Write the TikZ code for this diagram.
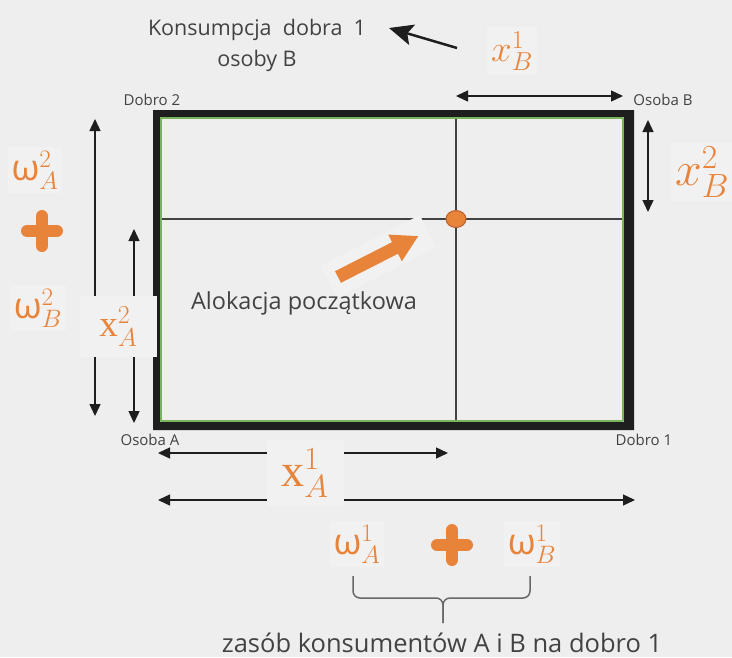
\documentclass[tikz,border=0pt]{standalone}
\usepackage{fix-cm}
\usepackage{fontspec}
\setmainfont{Open Sans}
\newfontfamily\szeryf{Liberation Serif}
\usetikzlibrary{arrows.meta,shapes.geometric}
\definecolor{tlo}{HTML}{EEEEEE}
\definecolor{jasne}{HTML}{F1F1F1}
\definecolor{pomar}{HTML}{E8833A}
\definecolor{ciemnypomar}{HTML}{B8612A}
\definecolor{ziel}{HTML}{79B45B}
\definecolor{czern}{HTML}{1E1E1E}
\definecolor{szary}{HTML}{424242}
\tikzset{
  wymiar/.style={<->,line width=1.4pt,draw=czern},
  maly/.style={font=\fontsize{15}{18}\selectfont,text=szary,inner sep=0pt},
  duzy/.style={font=\fontsize{21.5}{31}\selectfont,text=szary,align=center,inner sep=0pt},
  etyk/.style={font=\fontsize{36}{40}\selectfont,text=pomar,fill=jasne,inner sep=4pt},
  plus/.style={draw=pomar,line width=12pt,line cap=round},
  klamra/.style={draw=szary!80,line width=1.5pt,rounded corners=7pt},
}
\begin{document}
\begin{tikzpicture}[x=1pt,y=-1pt,>={Triangle[length=12pt,width=11pt]},line join=round]
  \useasboundingbox[fill=tlo] (0,0) rectangle (732,657);
  % skrzynka
  \fill[czern,even odd rule] (153,110) rectangle (634,430) (160,117) rectangle (624,422);
  \draw[ziel,line width=2pt] (161,118) rectangle (623,421);
  \draw[szary,line width=1.1pt] (456,119) -- (456,420) (162,219) -- (622,219);
  % strzalka do alokacji
  \begin{scope}[shift={(338,277)},rotate=27]
    \fill[jasne] (-10,-18) rectangle (101,18);
    \fill[pomar] (0,-6.5) -- (64,-6.5) -- (64,-15) -- (90,0) -- (64,15) -- (64,6.5) -- (0,6.5) -- cycle;
  \end{scope}
  \node[ellipse,fill=pomar,draw=ciemnypomar,line width=1pt,minimum width=20pt,minimum height=17pt,inner sep=0pt] (alok) at (456,219) {};
  % opisy
  \node[duzy] (konsum) at (257,45) {Konsumpcja\ \ dobra\ \ 1\\osoby B};
  \node[duzy,font=\fontsize{23.5}{26}\selectfont] (alokTxt) at (304,303) {Alokacja początkowa};
  \foreach \n/\x/\y/\t in {dobro2/152/100/Dobro 2,osobaB/663/100/Osoba B,osobaA/150/440/Osoba A,dobro1/644/440/Dobro 1}
    \node[maly] (\n) at (\x,\y) {\t};
  % strzalki wymiarowe
  \foreach \n/\xa/\ya/\xb/\yb in {gora/456/96/623/96,prawo/648/120/648/212,lewo/95/119/95/416,lewoB/134/229/134/423,dol/158/453/448/453,dolB/158/500/635/500}
  {
    \coordinate (\n-a) at (\xa,\ya);
    \coordinate (\n-b) at (\xb,\yb);
    \draw[wymiar] (\n-a) -- (\n-b);
  }
  \coordinate (wsk) at (457,48);
  \coordinate (wskGrot) at (389,28);
  \draw[czern,line width=2.5pt,-{Stealth[length=24pt,width=21pt,inset=5pt]}] (wsk) -- (wskGrot);
  % etykiety
  \node[etyk,font=\fontsize{37}{40}\selectfont,minimum width=77pt,minimum height=61pt,inner sep=0pt] (xA2) at (118.5,326.5) {$\mbox{\szeryf x}^{2}_{A}$};
  \node[etyk,font=\fontsize{46}{48}\selectfont,minimum width=77pt,minimum height=66pt,inner sep=0pt] (xA1) at (305,473) {$\mbox{\szeryf x}^{1}_{A}$};
  \node[etyk,font=\fontsize{37}{40}\selectfont] (xB1) at (512,51) {$x^{1}_{B}$};
  \node[etyk,font=\fontsize{48}{50}\selectfont] (xB2) at (702,172) {$x^{2}_{B}$};
  \node[etyk] (wA2) at (35,170) {$\mbox{ω}^{2}_{A}$};
  \node[etyk] (wB2) at (38,308) {$\mbox{ω}^{2}_{B}$};
  \node[etyk] (wA1) at (357,544) {$\mbox{ω}^{1}_{A}$};
  \node[etyk] (wB1) at (532,544) {$\mbox{ω}^{1}_{B}$};
  \draw[plus] (27,231) -- (57,231) (42,216) -- (42,246);
  \draw[plus] (437,545) -- (467,545) (452,530) -- (452,560);
  % klamra
  \coordinate (klL) at (353,576);
  \coordinate (klP) at (530,576);
  \coordinate (klS) at (443,623);
  \draw[klamra] (klL) |- (443,598) -- (klS);
  \draw[klamra] (klP) |- (443,598) -- (klS);
  \node[duzy,anchor=base,font=\fontsize{25.5}{28}\selectfont] (zasob) at (442,652) {zasób konsumentów A i B na dobro 1};
\end{tikzpicture}
\end{document}
